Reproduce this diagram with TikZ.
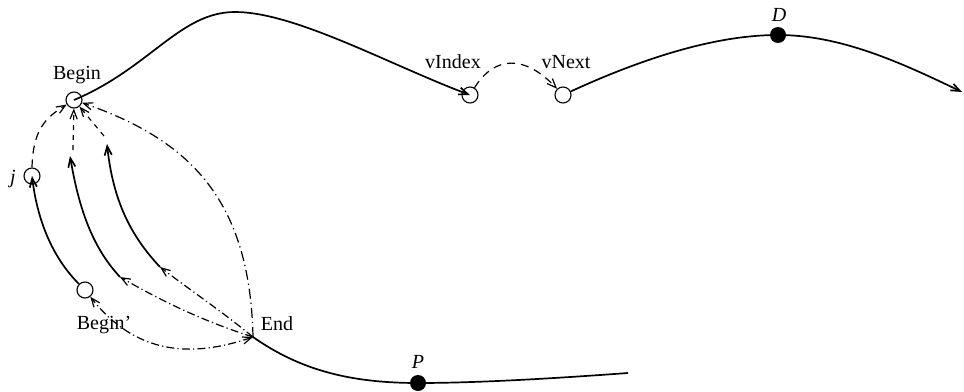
\documentclass[tikz,border=0pt]{standalone}
\usepackage{fontspec}
\setmainfont{Liberation Serif}
\usetikzlibrary{arrows.meta}
\begin{document}
\begin{tikzpicture}[x=0.5pt,y=-0.5pt,
  hollow/.style={circle,draw,line width=0.55pt,minimum size=8pt,inner sep=0pt},
  solidpt/.style={circle,fill,minimum size=8pt,inner sep=0pt},
  lbl/.style={font=\fontsize{10}{12}\selectfont,inner sep=0pt},
  curve/.style={line width=0.85pt},
  tip/.style={-{Straight Barb[length=4.5pt,width=3.6pt]}},
  twotip/.style={{Straight Barb[length=4.5pt,width=3.6pt]}-{Straight Barb[length=4.5pt,width=3.6pt]}},
  dsh/.style={line width=0.6pt,dash pattern=on 4pt off 3pt},
  dshort/.style={line width=0.6pt,dash pattern=on 2.5pt off 2.5pt},
  dd/.style={line width=0.6pt,dash pattern=on 4pt off 1.6pt on 0.6pt off 1.6pt},
  ddlong/.style={line width=0.6pt,dash pattern=on 5pt off 2pt on 0.6pt off 2pt}]
\useasboundingbox (0,0) rectangle (964,391);
% nodes
\node[hollow] (Begin) at (74,100) {};
\node[hollow] (vIndex) at (470,95) {};
\node[hollow] (vNext) at (563,95) {};
\node[hollow] (j) at (32,176) {};
\node[hollow] (Beginp) at (85,290) {};
\coordinate (End) at (253,337);
\node[solidpt] (D) at (778,35) {};
\node[solidpt] (P) at (418,383) {};
\coordinate (Dend) at (962,92);
\coordinate (Pend) at (628,373);
\coordinate (a0) at (120,277);
\coordinate (a1) at (70,156);
\coordinate (a2) at (73,150);
\coordinate (b0) at (160,267);
\coordinate (b1) at (107,144);
\coordinate (b2) at (104,136);
% labels
\node[lbl] (tBegin) at (77,75) {Begin};
\node[lbl] (tvIndex) at (453,62) {vIndex};
\node[lbl] (tvNext) at (566,62) {vNext};
\node[lbl] (tD) at (779,15) {\textit{D}};
\node[lbl] (tP) at (418,362) {\textit{P}};
\node[lbl] (tj) at (13,179) {\textit{j}};
\node[lbl] (tBeginp) at (104,325) {Begin'};
\node[lbl] (tEnd) at (277,324) {End};
% main solid curves
\draw[curve,tip] (Begin.center) .. controls (150,68) and (180,12) .. (235,12)
  .. controls (295,12) and (390,65) .. (vIndex.center);
\draw[dsh,tip] (vIndex) .. controls (495,55) and (525,55) .. (vNext);
\draw[curve,tip] (vNext) .. controls (650,55) and (720,35) .. (D.center)
  .. controls (840,35) and (900,62) .. (Dend);
\draw[curve] (End) .. controls (300,370) and (350,383) .. (P.center)
  .. controls (480,383) and (560,378) .. (Pend);
% left bundle
\draw[curve,tip] (Beginp) .. controls (55,260) and (38,225) .. (j.center);
\draw[dsh,tip] (j.north) .. controls (33,130) and (45,118) .. (Begin);
\draw[curve,tip] (a0) .. controls (95,250) and (80,215) .. (a1);
\draw[dshort,tip] (a2) -- (Begin);
\draw[curve,tip] (b0) .. controls (130,235) and (113,200) .. (b1);
\draw[dshort,tip] (b2) -- (Begin);
\draw[dd,tip] (End) .. controls (220,310) and (190,290) .. (b0);
\draw[dd,tip] (End) .. controls (200,320) and (160,300) .. (a0);
\draw[ddlong,tip] (End) .. controls (250,200) and (190,140) .. (Begin);
\draw[dd,twotip] (End) .. controls (200,355) and (140,360) .. (Beginp);
\end{tikzpicture}
\end{document}
